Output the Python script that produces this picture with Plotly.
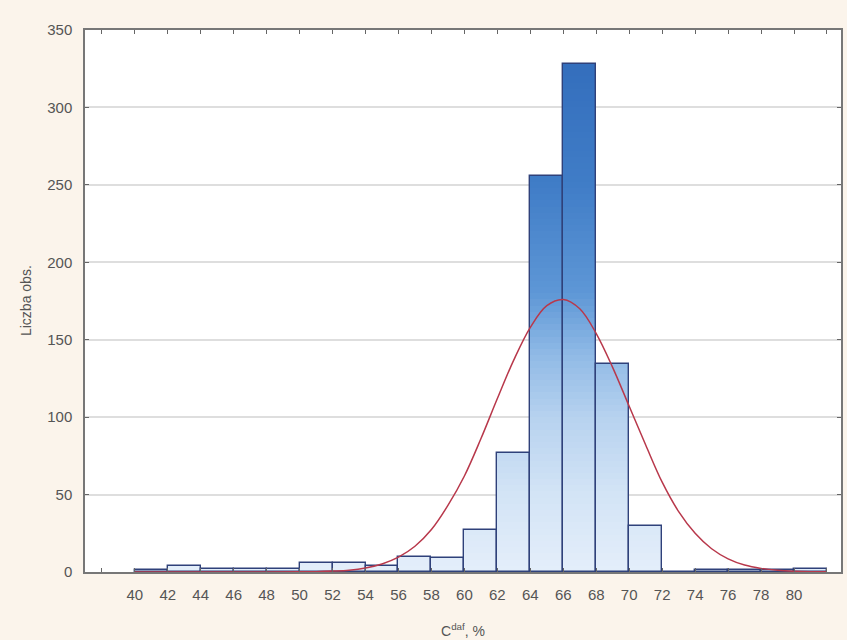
import plotly.graph_objects as go

# ---- data ----
bin_left = [40, 42, 44, 46, 48, 50, 52, 54, 56, 58, 60, 62, 64, 66, 68, 70, 72, 74, 76, 78, 80]
counts   = [1, 4, 2, 2, 2, 6, 6, 4, 10, 9, 27, 77, 256, 328, 134, 30, 0, 1, 1, 1, 2]

curve_x = [40, 44, 48, 50, 51, 52, 53, 54, 55, 56, 57, 58, 59, 60, 61, 62, 63, 64, 65, 66,
           67, 68, 69, 70, 71, 72, 73, 74, 75, 76, 77, 78, 79, 80, 81, 82]
curve_y = [0, 0, 0, 0.1, 0.24, 0.6, 1.2, 2.6, 5.2, 9.6, 16.6, 27.4, 43, 62, 86, 112, 137, 158, 172, 176,
           170, 154, 132, 107, 82, 58, 39, 25, 15, 8.5, 4.5, 2.3, 1.1, 0.5, 0.2, 0.1]

x_ticks = list(range(40, 82, 2))
y_ticks = [0, 50, 100, 150, 200, 250, 300, 350]

# ---- styling helpers ----
bin_w = 2
centers = [b + bin_w / 2 for b in bin_left]

stops = [(0, (228, 238, 250)), (50, (211, 228, 246)), (100, (183, 210, 239)),
         (140, (144, 186, 230)), (180, (94, 151, 214)), (250, (64, 125, 199)),
         (340, (50, 108, 187))]


def col(level):
    for (a, ca), (b, cb) in zip(stops[:-1], stops[1:]):
        if level <= b:
            t = (level - a) / (b - a)
            c = [round(ca[i] + (cb[i] - ca[i]) * t) for i in range(3)]
            return "rgb(%d,%d,%d)" % tuple(c)
    return "rgb(%d,%d,%d)" % stops[-1][1]


fig = go.Figure()

step = 4
lvl = 0
while lvl < max(counts):
    ys = [max(c - lvl, 0) for c in counts]
    fig.add_trace(go.Bar(
        x=centers, y=ys, base=[lvl] * len(counts), width=bin_w,
        marker=dict(color=col(lvl + step / 2), line=dict(width=0)),
        showlegend=False, hoverinfo="skip"))
    lvl += step

# outlines
fig.add_trace(go.Bar(
    x=centers, y=counts, width=bin_w,
    marker=dict(color="rgba(0,0,0,0)", line=dict(color="#2f417a", width=1.4)),
    showlegend=False))

fig.add_trace(go.Scatter(
    x=curve_x, y=curve_y, mode="lines", line=dict(color="#b8384b", width=1.5, shape="spline"),
    showlegend=False))

tick_font = dict(family="Liberation Sans, Arial, sans-serif", size=15, color="#555555")

fig.update_layout(
    width=847, height=640,
    margin=dict(l=85, r=4, t=30, b=68),
    paper_bgcolor="#fbf4eb",
    plot_bgcolor="#ffffff",
    barmode="overlay", bargap=0,
    xaxis=dict(range=[36.98, 82.85], tickvals=x_ticks,
               ticks="inside", ticklen=4, tickcolor="#666", tickwidth=1,
               minor=dict(ticks="inside", ticklen=4, tick0=0, dtick=2, tickcolor="#666", tickwidth=1),
               showline=True, linecolor="#777", linewidth=1.5, mirror="ticks",
               showgrid=False, zeroline=False, tickfont=tick_font, ticklabelstandoff=8),
    yaxis=dict(range=[0, 350], tickvals=y_ticks,
               ticks="inside", ticklen=4, tickcolor="#666", tickwidth=1,
               showline=True, linecolor="#777", linewidth=1.5, mirror="ticks",
               showgrid=True, gridcolor="#dedede", gridwidth=1.5, zeroline=False,
               tickfont=tick_font, ticklabelstandoff=8),
    annotations=[
        dict(text="Liczba obs.", textangle=-90, xref="paper", yref="paper",
             x=-0.078, y=0.5, xanchor="center", yanchor="middle", showarrow=False,
             font=dict(family="Liberation Sans, Arial, sans-serif", size=14, color="#555555")),
        dict(text="C<sup>daf</sup>, %", xref="paper", yref="paper",
             x=0.5, y=-0.107, xanchor="center", yanchor="middle", showarrow=False,
             font=dict(family="Liberation Sans, Arial, sans-serif", size=14, color="#555555")),
    ],
)

fig.write_html("out.html")
